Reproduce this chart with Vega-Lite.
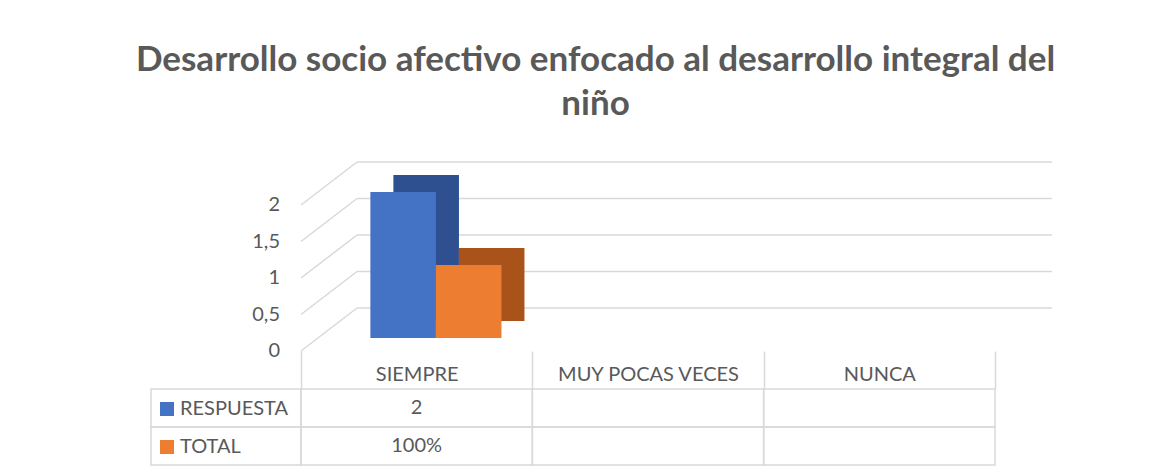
{
  "$schema": "https://vega.github.io/schema/vega-lite/v6.json",
  "background": "white",
  "padding": {"left": 135, "top": 43, "right": 10, "bottom": 5},
  "title": {
    "text": ["Desarrollo socio afectivo enfocado al desarrollo integral del", "niño"],
    "font": "Lato",
    "fontSize": 35,
    "fontWeight": "bold",
    "color": "#595959",
    "anchor": "middle",
    "lineHeight": 44,
    "offset": 39,
    "dx": -6
  },
  "datasets": {
    "tabla": [
      {"cat": "SIEMPRE", "serie": "RESPUESTA", "valor": 2, "etiqueta": "2"},
      {"cat": "SIEMPRE", "serie": "TOTAL", "valor": 1, "etiqueta": "100%"},
      {"cat": "MUY POCAS VECES", "serie": "RESPUESTA", "valor": null, "etiqueta": ""},
      {"cat": "MUY POCAS VECES", "serie": "TOTAL", "valor": null, "etiqueta": ""},
      {"cat": "NUNCA", "serie": "RESPUESTA", "valor": null, "etiqueta": ""},
      {"cat": "NUNCA", "serie": "TOTAL", "valor": null, "etiqueta": ""}
    ],
    "grid": [{"g": 0}, {"g": 0.5}, {"g": 1}, {"g": 1.5}, {"g": 2}]
  },
  "columns": 2,
  "spacing": {"row": 38, "column": 0},
  "bounds": "flush",
  "concat": [
    {
      "width": 150,
      "height": 146,
      "data": {"values": []},
      "mark": "point",
      "encoding": {}
    },
    {
      "width": 694,
      "height": 146,
      "data": {"name": "tabla"},
      "layer": [
        {
          "data": {"name": "grid"},
          "mark": {"type": "rule", "color": "#d9d9d9", "strokeWidth": 1.5, "xOffset": 56, "x2Offset": 57, "yOffset": -43},
          "encoding": {
            "y": {
              "field": "g",
              "type": "quantitative",
              "scale": {"domain": [0, 2], "nice": false},
              "axis": null
            },
            "x": {
              "datum": "SIEMPRE",
              "type": "nominal",
              "scale": {"domain": ["SIEMPRE", "MUY POCAS VECES", "NUNCA"], "paddingInner": 0, "paddingOuter": 0},
              "bandPosition": 0,
              "axis": {
                "title": null,
                "labelAngle": 0,
                "labelAlign": "center",
                "labelLimit": 400,
                "domain": false,
                "ticks": true,
                "tickBand": "extent",
                "tickSize": 38,
                "tickColor": "#d9d9d9",
                "tickWidth": 1.5,
                "grid": false,
                "labelFontSize": 20,
                "labelColor": "#595959",
                "labelPadding": -15,
                "labelBaseline": "middle"
              }
            },
            "x2": {"datum": "NUNCA", "bandPosition": 1}
          }
        },
        {
          "data": {"name": "grid"},
          "mark": {"type": "rule", "color": "#d9d9d9", "strokeWidth": 1.5, "x2Offset": 56, "y2Offset": -43},
          "encoding": {
            "y": {"field": "g", "type": "quantitative"},
            "y2": {"field": "g"},
            "x": {"datum": "SIEMPRE", "type": "nominal", "bandPosition": 0},
            "x2": {"datum": "SIEMPRE", "bandPosition": 0}
          }
        },
        {
          "data": {"name": "grid"},
          "mark": {"type": "text", "align": "right", "baseline": "middle", "dx": -21, "fontSize": 20, "color": "#595959"},
          "encoding": {
            "y": {"field": "g", "type": "quantitative"},
            "x": {"datum": "SIEMPRE", "type": "nominal", "bandPosition": 0},
            "text": {"field": "g", "type": "quantitative", "format": "~g"}
          }
        },
        {
          "transform": [{"filter": "datum.valor != null && datum.serie == 'RESPUESTA'"}],
          "mark": {"type": "bar", "color": "#2E5090", "width": {"band": 0.2835}, "xOffset": 9.5, "yOffset": -30, "y2Offset": -30},
          "encoding": {
            "x": {"field": "cat", "type": "nominal"},
            "y": {"field": "valor", "type": "quantitative"}
          }
        },
        {
          "transform": [{"filter": "datum.valor != null && datum.serie == 'TOTAL'"}],
          "mark": {"type": "bar", "color": "#A9531B", "width": {"band": 0.2835}, "xOffset": 75, "yOffset": -30, "y2Offset": -30},
          "encoding": {
            "x": {"field": "cat", "type": "nominal"},
            "y": {"field": "valor", "type": "quantitative"}
          }
        },
        {
          "transform": [{"filter": "datum.valor != null && datum.serie == 'RESPUESTA'"}],
          "mark": {"type": "bar", "width": {"band": 0.2835}, "xOffset": -13.5, "yOffset": -13, "y2Offset": -13},
          "encoding": {
            "x": {"field": "cat", "type": "nominal"},
            "y": {"field": "valor", "type": "quantitative"},
            "color": {"field": "serie", "type": "nominal"}
          }
        },
        {
          "transform": [{"filter": "datum.valor != null && datum.serie == 'TOTAL'"}],
          "mark": {"type": "bar", "width": {"band": 0.2835}, "xOffset": 52, "yOffset": -13, "y2Offset": -13},
          "encoding": {
            "x": {"field": "cat", "type": "nominal"},
            "y": {"field": "valor", "type": "quantitative"},
            "color": {
              "field": "serie",
              "type": "nominal",
              "scale": {"domain": ["RESPUESTA", "TOTAL"], "range": ["#4472C4", "#ED7D31"]},
              "legend": {
                "orient": "none",
                "legendX": 6,
                "legendY": 194,
                "title": null,
                "symbolType": "square",
                "symbolSize": 196,
                "symbolStrokeWidth": 0,
                "labelFontSize": 20,
                "labelColor": "#595959",
                "labelOffset": 3,
                "rowPadding": 18,
                "padding": 0
              }
            }
          }
        }
      ]
    },
    {
      "width": 150,
      "height": 76,
      "data": {"values": [{"serie": "RESPUESTA"}, {"serie": "TOTAL"}]},
      "mark": {"type": "rect", "fill": "transparent", "stroke": "#d9d9d9", "strokeWidth": 1.5},
      "encoding": {
        "y": {"field": "serie", "type": "nominal", "sort": null, "scale": {"paddingInner": 0, "paddingOuter": 0}, "axis": null}
      }
    },
    {
      "width": 694,
      "height": 76,
      "data": {"name": "tabla"},
      "encoding": {
        "x": {"field": "cat", "type": "nominal", "sort": null, "scale": {"domain": ["SIEMPRE", "MUY POCAS VECES", "NUNCA"], "paddingInner": 0, "paddingOuter": 0}, "axis": null},
        "y": {"field": "serie", "type": "nominal", "sort": null, "scale": {"domain": ["RESPUESTA", "TOTAL"], "paddingInner": 0, "paddingOuter": 0}, "axis": null}
      },
      "layer": [
        {"mark": {"type": "rect", "fill": "transparent", "stroke": "#d9d9d9", "strokeWidth": 1.5}},
        {"mark": {"type": "text", "fontSize": 20, "color": "#595959"}, "encoding": {"text": {"field": "etiqueta"}}}
      ]
    }
  ],
  "config": {
    "font": "Lato",
    "view": {"stroke": null},
    "locale": {
      "number": {"decimal": ",", "thousands": ".", "grouping": [3], "currency": ["", " €"]}
    }
  }
}
